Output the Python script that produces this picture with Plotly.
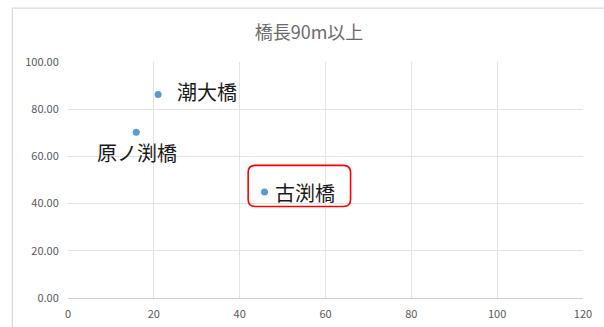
import plotly.graph_objects as go

# Bridges longer than 90 m
bridge_names = ["潮大橋", "原ノ渕橋", "古渕橋"]
x_values = [21.0, 15.9, 45.8]
y_values = [86.2, 70.2, 44.9]
x_ticks = [0, 20, 40, 60, 80, 100, 120]
y_ticks = [0, 20, 40, 60, 80, 100]

FONT = "Noto Sans CJK JP"
GRID = "#e3e3e3"
TICK = "#595959"

fig = go.Figure(
    go.Scatter(
        x=x_values,
        y=y_values,
        mode="markers",
        marker=dict(size=7, color="#5b9bd5"),
        showlegend=False,
        hoverinfo="skip",
    )
)

# label placement: (xanchor, xshift, yshift)
label_pos = [("left", 17, 3), ("center", 1, -20), ("left", 8, 0)]
for name, xv, yv, (anc, dx, dy) in zip(bridge_names, x_values, y_values, label_pos):
    fig.add_annotation(
        x=xv, y=yv, text=name, showarrow=False,
        xanchor=anc, yanchor="middle", xshift=dx, yshift=dy,
        font=dict(family=FONT, size=20, color="#1a1a1a"),
    )

# rounded red frame around the highlighted bridge
def rounded_rect(x0, y0, x1, y1, r):
    return (f"M {x0 + r},{y0} L {x1 - r},{y0} Q {x1},{y0} {x1},{y0 + r} "
            f"L {x1},{y1 - r} Q {x1},{y1} {x1 - r},{y1} "
            f"L {x0 + r},{y1} Q {x0},{y1} {x0},{y1 - r} "
            f"L {x0},{y0 + r} Q {x0},{y0} {x0 + r},{y0} Z")

fig.add_shape(
    type="path", xref="x", yref="y",
    xsizemode="pixel", ysizemode="pixel",
    xanchor=x_values[2], yanchor=y_values[2],
    path=rounded_rect(-16.4, -14.5, 86.0, 26.7, 7),
    line=dict(color="#ff0000", width=1.6),
)

# outer chart frame
fig.add_shape(
    type="rect", xref="paper", yref="paper",
    x0=-0.108, x1=1.1, y0=-0.2, y1=1.228,
    line=dict(color="#d9d9d9", width=1.2), layer="below",
)

fig.update_layout(
    width=604, height=327,
    margin=dict(l=68.3, r=21.3, t=61.7, b=29.3, pad=0),
    paper_bgcolor="white", plot_bgcolor="white",
    title=dict(text="橋長90m以上", x=309 / 604, xref="container", xanchor="center",
               y=1 - 33 / 327, yanchor="middle",
               font=dict(family=FONT, size=18, color="#6b6b6b")),
    font=dict(family=FONT),
    xaxis=dict(range=[0, 120], tickvals=x_ticks, showgrid=True, gridcolor=GRID,
               gridwidth=1, zeroline=False, showline=False, ticks="outside",
               ticklen=6, tickcolor="rgba(0,0,0,0)", automargin=False,
               tickfont=dict(family=FONT, size=11, color=TICK)),
    yaxis=dict(range=[0, 100], tickvals=y_ticks, tickformat=".2f", showgrid=True,
               gridcolor=GRID, gridwidth=1, zeroline=True, zerolinecolor="#d0d0d0",
               zerolinewidth=1, showline=False, ticks="outside", ticklen=6,
               tickcolor="rgba(0,0,0,0)", automargin=False,
               tickfont=dict(family=FONT, size=11, color=TICK)),
)

fig.write_html("out.html")
